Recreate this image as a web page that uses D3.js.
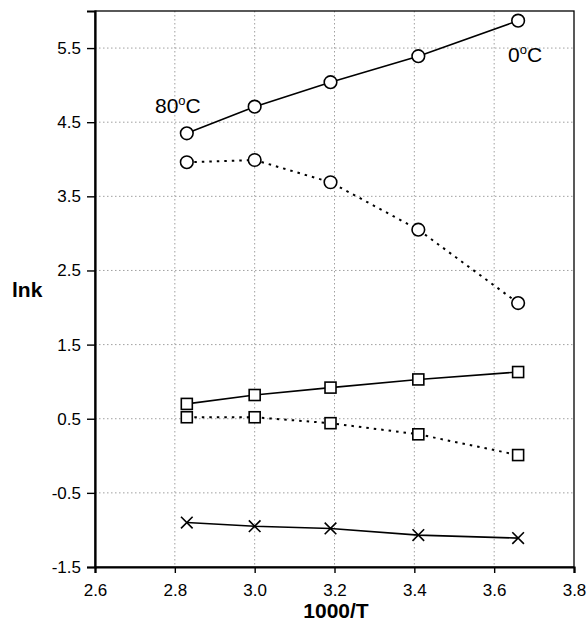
<!DOCTYPE html>
<html>
<head>
<meta charset="utf-8">
<script src="https://cdn.jsdelivr.net/npm/d3@7"></script>
<style>
  body { margin: 0; background: #fff; }
  svg { display: block; font-family: "Liberation Sans", Arial, sans-serif; }
</style>
</head>
<body>
<div class="chart"></div>
<script>
// data
var invT = [2.83, 3.00, 3.19, 3.41, 3.66];
var circleSolid = [4.35, 4.71, 5.04, 5.39, 5.87];
var circleDotted = [3.96, 3.99, 3.69, 3.05, 2.06];
var squareSolid = [0.70, 0.82, 0.92, 1.03, 1.13];
var squareDotted = [0.52, 0.52, 0.44, 0.29, 0.01];
var crossSolid = [-0.90, -0.95, -0.98, -1.07, -1.11];
var xTicks = [2.6, 2.8, 3.0, 3.2, 3.4, 3.6, 3.8];
var yTicks = [-1.5, -0.5, 0.5, 1.5, 2.5, 3.5, 4.5, 5.5];

var margin = { top: 11, right: 14, bottom: 54, left: 95 },
    width = 588 - margin.left - margin.right,
    height = 621 - margin.top - margin.bottom;

var x = d3.scaleLinear().domain([2.6, 3.8]).range([0, width]);
var y = d3.scaleLinear().domain([-1.5, 6.0]).range([height, 0]);

// plain hyphen for negatives, like the original
var fmt = function (d) { return d.toFixed(1); };

var svg = d3.select(".chart").append("svg")
    .attr("width", 588)
    .attr("height", 621)
    .append("g")
    .attr("transform", "translate(" + margin.left + "," + margin.top + ")");

// grid
svg.append("g")
    .selectAll("line")
    .data(xTicks.slice(1, -1))
    .enter().append("line")
    .attr("x1", d => x(d)).attr("x2", d => x(d))
    .attr("y1", 0).attr("y2", height)
    .attr("stroke", "#888").attr("stroke-width", 0.8)
    .attr("stroke-dasharray", "1.5,2.5");

svg.append("g")
    .selectAll("line")
    .data(yTicks.slice(1))
    .enter().append("line")
    .attr("x1", 0).attr("x2", width)
    .attr("y1", d => y(d)).attr("y2", d => y(d))
    .attr("stroke", "#888").attr("stroke-width", 0.8)
    .attr("stroke-dasharray", "1.5,2.5");

// frame
svg.append("rect")
    .attr("width", width).attr("height", height)
    .attr("fill", "none").attr("stroke", "#000").attr("stroke-width", 1.3);

// axes
var xAxis = svg.append("g")
    .attr("transform", "translate(0," + height + ")")
    .call(d3.axisBottom(x).tickValues(xTicks).tickFormat(fmt).tickSize(6).tickPadding(11));
var yAxis = svg.append("g")
    .call(d3.axisLeft(y).tickValues(yTicks).tickFormat(fmt).tickSize(8).tickPadding(6));

[xAxis, yAxis].forEach(function (a) {
    a.attr("font-size", 17).attr("font-family", "Liberation Sans, Arial, sans-serif");
    a.select(".domain").attr("stroke-width", 2.2);
    a.selectAll(".tick line").attr("stroke-width", 1.4);
    a.selectAll("text").attr("fill", "#000");
});

// series
var series = [
    { vals: circleSolid, dash: null, mark: "circle" },
    { vals: circleDotted, dash: "2.5,5", mark: "circle" },
    { vals: squareSolid, dash: null, mark: "square" },
    { vals: squareDotted, dash: "2.5,5", mark: "square" },
    { vals: crossSolid, dash: null, mark: "cross" }
];

var line = d3.line()
    .x(d => x(d[0]))
    .y(d => y(d[1]));

series.forEach(function (s) {
    var pts = invT.map((t, i) => [t, s.vals[i]]);
    svg.append("path")
        .datum(pts)
        .attr("d", line)
        .attr("fill", "none")
        .attr("stroke", "#000")
        .attr("stroke-width", s.dash ? 2 : 1.6)
        .attr("stroke-dasharray", s.dash);

    var g = svg.append("g");
    if (s.mark == "circle") {
        g.selectAll("circle").data(pts).enter().append("circle")
            .attr("cx", d => x(d[0])).attr("cy", d => y(d[1]))
            .attr("r", 6.3)
            .attr("fill", "#fff").attr("stroke", "#000").attr("stroke-width", 1.6);
    } else if (s.mark == "square") {
        g.selectAll("rect").data(pts).enter().append("rect")
            .attr("x", d => x(d[0]) - 5.5).attr("y", d => y(d[1]) - 5.5)
            .attr("width", 11).attr("height", 11)
            .attr("fill", "#fff").attr("stroke", "#000").attr("stroke-width", 1.6);
    } else {
        g.selectAll("path").data(pts).enter().append("path")
            .attr("d", d3.symbol().type(d3.symbolX).size(90))
            .attr("transform", d => "translate(" + x(d[0]) + "," + y(d[1]) + ")")
            .attr("fill", "none").attr("stroke", "#000").attr("stroke-width", 1.6);
    }
});

// temperature labels
function tempLabel(px, py, num) {
    var t = svg.append("text")
        .attr("x", px).attr("y", py)
        .attr("font-size", 21).attr("fill", "#000");
    t.append("tspan").text(num);
    t.append("tspan").attr("font-size", 13).attr("dy", -8).text("o");
    t.append("tspan").attr("dy", 8).text("C");
}
tempLabel(155 - margin.left, 113 - margin.top, "80");
tempLabel(508 - margin.left, 62 - margin.top, "0");

// axis titles
svg.append("text")
    .attr("x", 336 - margin.left)
    .attr("y", 618 - margin.top)
    .style("text-anchor", "middle")
    .attr("font-size", 21).attr("font-weight", "bold")
    .text("1000/T");

svg.append("text")
    .attr("x", 12 - margin.left)
    .attr("y", 297 - margin.top)
    .attr("font-size", 21).attr("font-weight", "bold")
    .text("lnk");
</script>
</body>
</html>
